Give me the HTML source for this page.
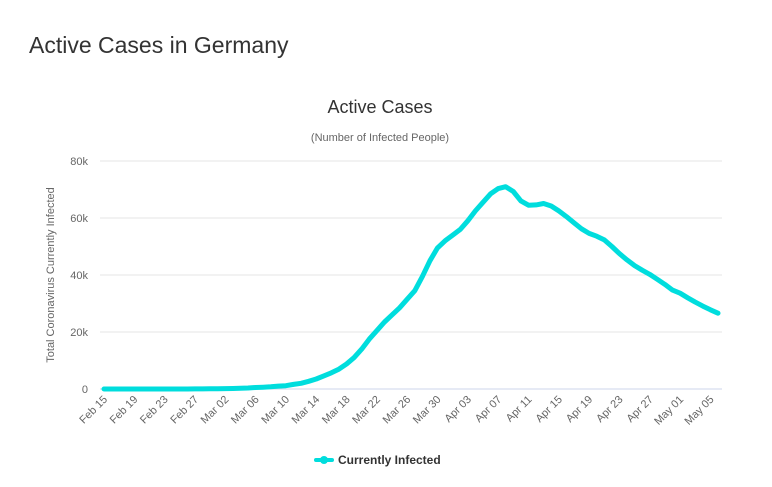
<!DOCTYPE html>
<html><head><meta charset="utf-8"><style>
body{margin:0;background:#fff;width:772px;height:487px;overflow:hidden;font-family:"Liberation Sans",sans-serif}
h1{position:absolute;left:29px;top:32px;margin:0;font-weight:normal;font-size:23px;color:#333}
</style></head><body>
<h1>Active Cases in Germany</h1>
<svg id="chart" width="772" height="487" style="position:absolute;left:0;top:0">
<text x="380" y="113" text-anchor="middle" font-size="18" fill="#333">Active Cases</text>
<text x="380" y="141" text-anchor="middle" font-size="11" fill="#666">(Number of Infected People)</text>
<text transform="translate(54,275) rotate(-90)" text-anchor="middle" font-size="11" fill="#666">Total Coronavirus Currently Infected</text>
<g id="grid"></g><g id="xt"></g><path id="line" fill="none" stroke="#00dddd" stroke-width="5" stroke-linejoin="round" stroke-linecap="round"/>
<g>
<line x1="316" y1="460" x2="332" y2="460" stroke="#00dddd" stroke-width="4" stroke-linecap="round"/><circle cx="324" cy="460" r="4" fill="#00dddd"/>
<text x="338" y="464" font-size="12" font-weight="bold" fill="#333">Currently Infected</text></g>
</svg>
<script>
const yTicks=[0,20000,40000,60000,80000];
const yTickLabels=["0","20k","40k","60k","80k"];
const xTickLabels=["Feb 15","Feb 19","Feb 23","Feb 27","Mar 02","Mar 06","Mar 10","Mar 14","Mar 18","Mar 22","Mar 26","Mar 30","Apr 03","Apr 07","Apr 11","Apr 15","Apr 19","Apr 23","Apr 27","May 01","May 05"];
const values=[10,10,10,10,10,10,10,10,10,10,10,15,20,40,60,
120,140,180,230,340,520,640,780,1000,1150,
1600,2000,2700,3500,4600,5700,7000,
8800,11000,14000,17500,20500,23500,26000,
28500,31500,34500,39500,45000,49500,52000,
54000,56000,59000,62500,65500,68500,70300,
71000,69300,66000,64500,64600,65100,64200,62500,60500,58300,56200,54600,53600,52300,50000,47500,45300,43300,41700,40200,38500,36700,34700,33600,32000,30500,29100,27800,26600];
const X0=104,DX=7.58;
const x=i=>X0+i*DX, y=v=>389-v/80000*228;
const ns="http://www.w3.org/2000/svg";
const grid=document.getElementById('grid'), xt=document.getElementById('xt');
yTicks.forEach((t,k)=>{
 const l=document.createElementNS(ns,'line');
 l.setAttribute('x1',100);l.setAttribute('x2',722);l.setAttribute('y1',y(t));l.setAttribute('y2',y(t));
 l.setAttribute('stroke',t===0?'#ccd6eb':'#e6e6e6');
 
 
 grid.appendChild(l);
 const tx=document.createElementNS(ns,'text');
 tx.setAttribute('x',88);tx.setAttribute('y',y(t)+4);tx.setAttribute('text-anchor','end');tx.setAttribute('font-size','11');tx.setAttribute('fill','#666');
 tx.textContent=yTickLabels[k];
 
 
 grid.appendChild(tx);
});
xTickLabels.forEach((s,k)=>{
 const tx=document.createElementNS(ns,'text');
 const px=x(k*4)+4,py=400;
 tx.setAttribute('transform',`translate(${px},${py}) rotate(-45)`);
 tx.setAttribute('text-anchor','end');tx.setAttribute('font-size','11');tx.setAttribute('fill','#666');
 tx.textContent=s;
 
 
 xt.appendChild(tx);
});
document.getElementById('line').setAttribute('d',values.map((v,i)=>(i?'L':'M')+x(i).toFixed(1)+','+y(v).toFixed(1)).join(''));
</script>
</body></html>
